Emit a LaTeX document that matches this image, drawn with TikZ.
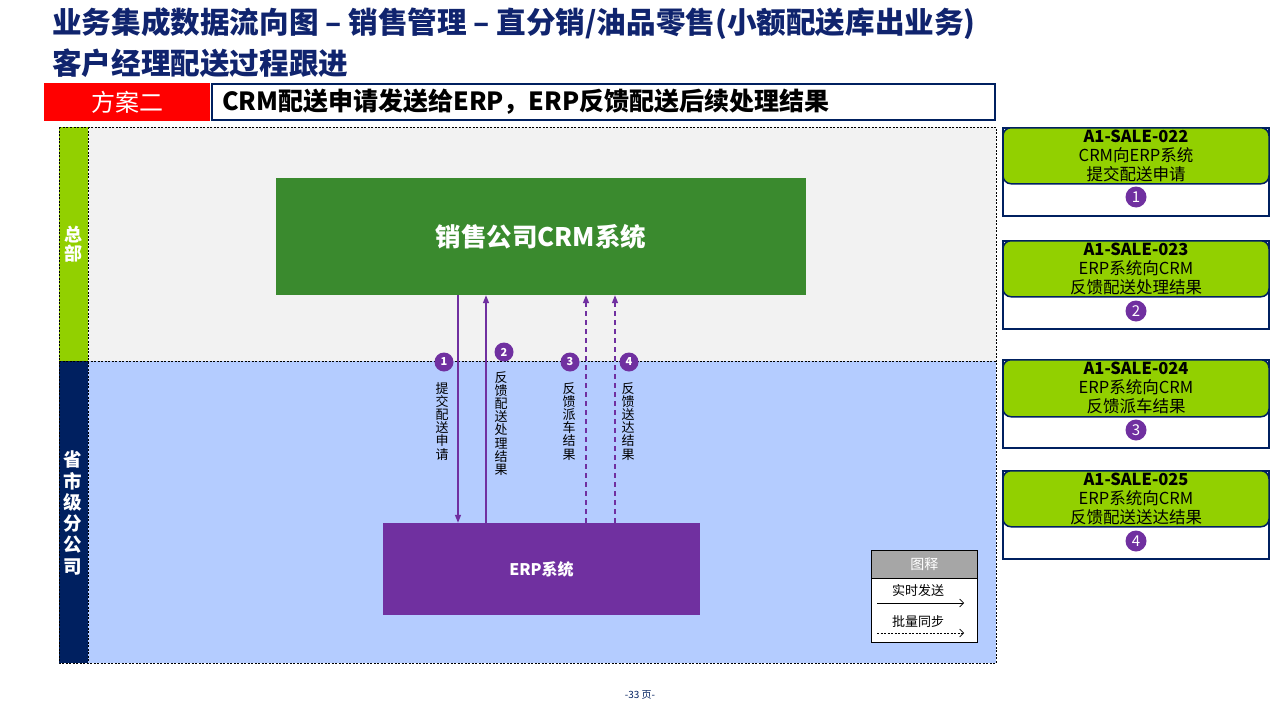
\documentclass[tikz,border=0pt]{standalone}
\usepackage{fontspec}
\setmainfont{Noto Sans CJK SC}
\usetikzlibrary{arrows.meta}
\definecolor{navy}{RGB}{0,32,96}
\definecolor{titleblue}{RGB}{16,36,110}
\definecolor{lanegreen}{RGB}{146,208,0}
\definecolor{hqgray}{RGB}{242,242,242}
\definecolor{provblue}{RGB}{180,204,255}
\definecolor{crmgreen}{RGB}{58,138,46}
\definecolor{erppurple}{RGB}{112,48,160}
\definecolor{leggray}{RGB}{166,166,166}
\tikzset{
  fs/.style={font=\fontsize{#1}{#1}\selectfont},
  numcirc/.style={circle, fill=erppurple, text=white, inner sep=0pt, minimum size=19pt, font=\fontsize{11}{11}\selectfont\bfseries},
  boxcirc/.style={circle, fill=erppurple, text=white, inner sep=0pt, minimum size=21pt, font=\fontsize{15}{15}\selectfont},
  vtext/.style={align=center, inner sep=0pt, anchor=north, font=\fontsize{13}{13.2}\selectfont},
  flow/.style={draw=erppurple, line width=1.5pt, -{Triangle[length=8pt,width=6pt]}},
  batch/.style={flow, dash pattern=on 5pt off 4pt},
  lanelbl/.style={align=center, inner sep=0pt, text=white, font=\fontsize{17}{20}\selectfont\bfseries},
  idouter/.style={draw=navy, line width=2pt, fill=white, minimum width=266pt, minimum height=88pt, anchor=north, inner sep=0pt},
  idgreen/.style={draw=navy, line width=1.5pt, fill=lanegreen, rounded corners=8pt, minimum width=266pt, minimum height=56pt, anchor=north, inner xsep=0pt, inner ysep=0pt, align=center, font=\fontsize{16.5}{19}\selectfont},
  legarrow/.style={draw=black, line width=0.6pt, -{Straight Barb[length=4pt,width=8pt]}},
}
\begin{document}
\begin{tikzpicture}[x=1pt,y=-1pt]
\useasboundingbox (0,0) rectangle (1280,720);
\fill[white] (0,0) rectangle (1280,720);

% titles
\node[anchor=west, inner sep=0pt, text=titleblue, font=\fontsize{29.6}{30}\selectfont\bfseries] (title1) at (52,24) {业务集成数据流向图 – 销售管理 – 直分销/油品零售(小额配送库出业务)};
\node[anchor=west, inner sep=0pt, text=titleblue, font=\fontsize{29.6}{30}\selectfont\bfseries] (title2) at (52,63) {客户经理配送过程跟进};

% scheme bar
\node[fill=red, minimum width=166pt, minimum height=38pt, inner sep=0pt, text=white, fs=24] (scheme) at (127,102) {方案二};
\node[draw=navy, line width=2pt, minimum width=783pt, minimum height=36pt, inner xsep=10pt, inner ysep=0pt, text width=763pt, align=left, font=\fontsize{25}{25}\selectfont\bfseries] (subtitle) at (603.5,102) {CRM配送申请发送给ERP，ERP反馈配送后续处理结果};

% swimlanes
\fill[hqgray] (88,127) rectangle (996,361);
\fill[provblue] (88,361) rectangle (996,663);
\fill[lanegreen] (59,127) rectangle (88,361);
\fill[navy] (59,361) rectangle (88,663);
\draw[line width=0.6pt, dash pattern=on 2pt off 1.5pt] (59,127) rectangle (996,663);
\draw[line width=0.6pt, dash pattern=on 2pt off 1.5pt] (59,361) -- (996,361);
\draw[line width=0.6pt, dash pattern=on 2pt off 1.5pt] (88,127) -- (88,663);
\node[lanelbl, font=\fontsize{18}{19.5}\selectfont\bfseries] (lanehq) at (73,244) {总\\部};
\node[lanelbl, font=\fontsize{18.5}{21.3}\selectfont\bfseries] (laneprov) at (73,513) {省\\市\\级\\分\\公\\司};

% systems
\node[fill=crmgreen, minimum width=530pt, minimum height=117pt, inner sep=0pt, text=white, font=\fontsize{25.5}{25.5}\selectfont\bfseries] (crm) at (541,236.5) {销售公司CRM系统};
\node[fill=erppurple, minimum width=317pt, minimum height=92pt, inner sep=0pt, text=white, font=\fontsize{16}{16}\selectfont\bfseries] (erp) at (541.5,569) {ERP系统};

% flows
\coordinate (x1) at (458,0);
\coordinate (x2) at (486,0);
\coordinate (x3) at (586,0);
\coordinate (x4) at (615,0);
\draw[flow] (crm.south -| x1) -- (erp.north -| x1);
\draw[flow] (erp.north -| x2) -- (crm.south -| x2);
\draw[batch] (erp.north -| x3) -- (crm.south -| x3);
\draw[batch] (erp.north -| x4) -- (crm.south -| x4);

\node[numcirc] (n1) at (444,362) {1};
\node[numcirc] (n2) at (504,352) {2};
\node[numcirc] (n3) at (570,362) {3};
\node[numcirc] (n4) at (629,362) {4};
\node[vtext] (t1) at (442,382) {提\\交\\配\\送\\申\\请};
\node[vtext] (t2) at (501,371) {反\\馈\\配\\送\\处\\理\\结\\果};
\node[vtext] (t3) at (569,382) {反\\馈\\派\\车\\结\\果};
\node[vtext] (t4) at (628,382) {反\\馈\\送\\达\\结\\果};

% interface list
\node[idouter] (b1) at (1136,127) {};
\node[idgreen] (g1) at (1136,127) {\textbf{A1-SALE-022}\\CRM向ERP系统\\提交配送申请};
\node[boxcirc] (c1) at (1136,197) {1};

\node[idouter] (b2) at (1136,240) {};
\node[idgreen] (g2) at (1136,240) {\textbf{A1-SALE-023}\\ERP系统向CRM\\反馈配送处理结果};
\node[boxcirc] (c2) at (1136,311) {2};

\node[idouter] (b3) at (1136,359) {};
\node[idgreen, minimum height=57pt] (g3) at (1136,359) {\textbf{A1-SALE-024}\\ERP系统向CRM\\反馈派车结果};
\node[boxcirc] (c3) at (1136,430) {3};

\node[idouter] (b4) at (1136,470) {};
\node[idgreen] (g4) at (1136,470) {\textbf{A1-SALE-025}\\ERP系统向CRM\\反馈配送送达结果};
\node[boxcirc] (c4) at (1136,541) {4};

% legend
\node[draw=black, line width=0.6pt, fill=white, minimum width=106pt, minimum height=92pt, anchor=north west, inner sep=0pt] (legend) at (871,550) {};
\node[draw=black, line width=0.6pt, fill=leggray, minimum width=106pt, minimum height=28pt, anchor=north west, inner sep=0pt, text=white, fs=14] (leghead) at (871,550) {图释};
\node[inner sep=0pt, fs=13] (legrt) at (918,591) {实时发送};
\node[inner sep=0pt, fs=13] (legbt) at (918,622) {批量同步};
\coordinate (la1) at (877,603);
\coordinate (la2) at (964,603);
\coordinate (lb1) at (877,633);
\coordinate (lb2) at (964,633);
\draw[legarrow] (la1) -- (la2);
\draw[legarrow, dash pattern=on 2pt off 1.5pt] (lb1) -- (lb2);

% footer
\node[inner sep=0pt, text=navy, fs=10] (footer) at (640,695) {-33 页-};
\end{tikzpicture}
\end{document}
